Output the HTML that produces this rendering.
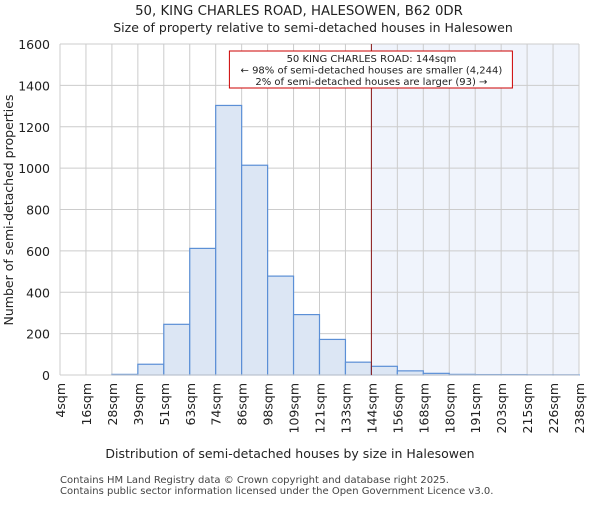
<!DOCTYPE html>
<html><head><meta charset="utf-8"><style>
body{margin:0;background:#fff;font-family:"Liberation Sans","DejaVu Sans",sans-serif}
</style></head><body>
<svg id="c" width="600" height="500" xmlns="http://www.w3.org/2000/svg" font-family="DejaVu Sans, Liberation Sans, sans-serif">
<text x="299" y="15" text-anchor="middle" font-size="13.3" fill="#222">50, KING CHARLES ROAD, HALESOWEN, B62 0DR</text>
<text x="313" y="32" text-anchor="middle" font-size="12.5" fill="#222">Size of property relative to semi-detached houses in Halesowen</text>
<g id="plot"></g>
<text x="290" y="458" text-anchor="middle" font-size="12.5" fill="#222">Distribution of semi-detached houses by size in Halesowen</text>
<text transform="translate(13,210) rotate(-90)" text-anchor="middle" font-size="12.5" fill="#222">Number of semi-detached properties</text>
<text x="60" y="483" font-size="10" fill="#444">Contains HM Land Registry data © Crown copyright and database right 2025.</text>
<text x="60" y="494" font-size="10" fill="#444">Contains public sector information licensed under the Open Government Licence v3.0.</text>
</svg>
<script>
const binLabels=["4sqm","16sqm","28sqm","39sqm","51sqm","63sqm","74sqm","86sqm","98sqm","109sqm","121sqm","133sqm","144sqm","156sqm","168sqm","180sqm","191sqm","203sqm","215sqm","226sqm","238sqm"];
const counts=[0,0,3,52,245,612,1303,1014,478,292,172,62,42,20,8,3,2,2,1,1];
const yTicks=[0,200,400,600,800,1000,1200,1400,1600];
const markerBin=12;
const NS="http://www.w3.org/2000/svg";
const x0=60,x1=579,yb=375,yt=44,yMax=1600;
const bw=(x1-x0)/counts.length;
const X=i=>x0+i*bw, Y=v=>yb-(v/yMax)*(yb-yt);
const g=document.getElementById('plot');
function mk(t,a){const e=document.createElementNS(NS,t);for(const k in a)e.setAttribute(k,a[k]);g.appendChild(e);return e;}
let e=mk('rect',{x:X(markerBin),y:yt,width:x1-X(markerBin),height:yb-yt,fill:'#f0f4fc'});


yTicks.forEach(v=>{
 let l=mk('line',{x1:x0,x2:x1,y1:Y(v),y2:Y(v),stroke:'#ccc'});
 
 
 let t=mk('text',{x:x0-10,y:Y(v)+5,'text-anchor':'end','font-size':'12.5',fill:'#222'});t.textContent=v;
 
 
});
binLabels.forEach((s,i)=>{
 let l=mk('line',{x1:X(i),x2:X(i),y1:yt,y2:yb,stroke:'#ccc'});
 
 
 let t=mk('text',{transform:`translate(${X(i)+5},${yb+8}) rotate(-90)`,'text-anchor':'end','font-size':'12.5',fill:'#222'});t.textContent=s;
 
 
});
counts.forEach((v,i)=>{
 let r=mk('rect',{x:X(i),y:Y(v),width:bw,height:yb-Y(v),fill:'#dce6f4',stroke:'#5b8fd6','stroke-width':1.2});
 
 
});
e=mk('line',{x1:x0,x2:x1,y1:yb,y2:yb,stroke:'#ccc'});


e=mk('line',{x1:X(markerBin),x2:X(markerBin),y1:yt,y2:yb,stroke:'#8b1a1a','stroke-width':1});


const cx=X(markerBin);
e=mk('rect',{x:cx-142,y:51,width:283,height:37,fill:'#fff',stroke:'#c00','stroke-width':1});


["50 KING CHARLES ROAD: 144sqm","← 98% of semi-detached houses are smaller (4,244)","2% of semi-detached houses are larger (93) →"].forEach((s,i)=>{
 let t=mk('text',{x:cx,y:62+i*11.5,'text-anchor':'middle','font-size':'10',fill:'#222'});t.textContent=s;
 
 
});
</script>
</body></html>
